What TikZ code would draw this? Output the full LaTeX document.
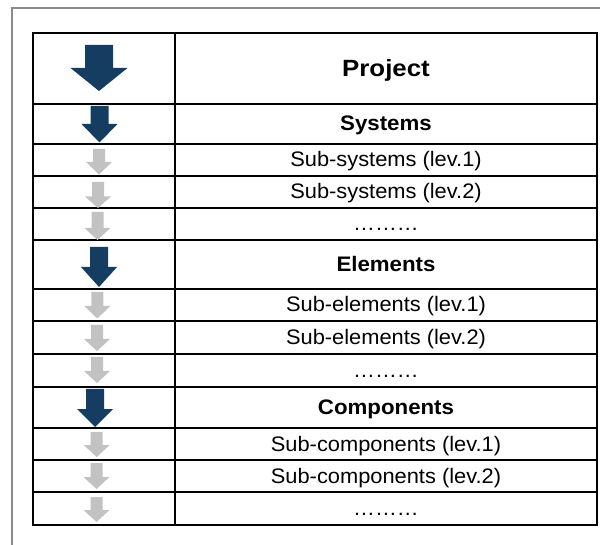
\documentclass[tikz,border=0pt]{standalone}
\usepackage{fontspec}
\setmainfont{Liberation Sans}
\newfontfamily\tablefont[FakeStretch=1.04]{Liberation Sans}
\newfontfamily\levelfont[FakeStretch=1.06]{Liberation Sans}
\newfontfamily\titlefont[FakeStretch=1.1]{Liberation Sans}

\definecolor{navy}{HTML}{153D61}
\definecolor{paleGray}{HTML}{C2C2C2}
\definecolor{frameGray}{HTML}{8A8A8A}

% one downward block arrow:
% #1 style, #2 centre x, #3 top, #4 half shaft, #5 head start, #6 half head, #7 tip
\newcommand{\blockarrow}[7]{%
  \fill[#1] ({#2-#4},#3) -- ({#2+#4},#3) -- ({#2+#4},#5) -- ({#2+#6},#5)
    -- (#2,#7) -- ({#2-#6},#5) -- ({#2-#4},#5) -- cycle;}

\tikzset{
  grid line/.style={line width=2pt, black},
  frame line/.style={line width=1.2pt, frameGray},
  major arrow/.style={fill=navy},
  minor arrow/.style={fill=paleGray},
  entry/.style={anchor=base, inner sep=0pt,
    font=\tablefont\fontsize{21}{24}\selectfont},
  level entry/.style={anchor=base, inner sep=0pt,
    font=\levelfont\bfseries\fontsize{21}{24}\selectfont},
  title entry/.style={anchor=base, inner sep=0pt,
    font=\titlefont\bfseries\fontsize{23.5}{28}\selectfont},
}

\begin{document}
\begin{tikzpicture}[x=1pt, y=-1pt]
  \useasboundingbox (0,0) rectangle (600,545);

  % page frame
  \draw[frame line] (12,545) -- (12,8) -- (600,8);

  % table grid
  \draw[grid line] (33,33) rectangle (597,525);
  \draw[grid line] (175,33) -- (175,525);
  \foreach \y in {104,144,176,208,240,289,321,354,387,428,460,492}
    \draw[grid line] (33,\y) -- (597,\y);

  % level arrows
  \blockarrow{major arrow}{99}{45}{14}{68}{28.5}{91}
  \blockarrow{major arrow}{99.5}{106}{9}{124}{18}{142.5}
  \blockarrow{major arrow}{99}{247}{9}{267}{18}{287}
  \blockarrow{major arrow}{95}{389}{9}{409}{18}{427}

  % sub-level arrows
  \blockarrow{minor arrow}{99}{149}{6}{162}{13}{174.5}
  \blockarrow{minor arrow}{98}{182}{6}{196.5}{13}{208}
  \blockarrow{minor arrow}{97.5}{212}{6}{228}{13}{240}
  \blockarrow{minor arrow}{97.3}{292}{6}{306}{13}{318.5}
  \blockarrow{minor arrow}{97}{325}{6}{339}{13}{351}
  \blockarrow{minor arrow}{97}{357}{6}{371}{13}{383}
  \blockarrow{minor arrow}{96.7}{432}{6}{445}{13}{457}
  \blockarrow{minor arrow}{96.5}{463}{6}{477}{13}{489}
  \blockarrow{minor arrow}{96.5}{497}{6}{510}{13}{522}

  % labels
  \node[title entry] (project) at (386,77) {Project};
  \node[level entry] (systems) at (386,131) {Systems};
  \node[entry] (subsys1) at (386,167) {Sub-systems (lev.1)};
  \node[entry] (subsys2) at (386,199) {Sub-systems (lev.2)};
  \node[entry] (subsysn) at (386,231) {………};
  \node[level entry] (elements) at (386,271.5) {Elements};
  \node[entry] (subel1) at (386,312) {Sub-elements (lev.1)};
  \node[entry] (subel2) at (386,344.5) {Sub-elements (lev.2)};
  \node[entry] (subeln) at (386,377.5) {………};
  \node[level entry] (components) at (386,414.5) {Components};
  \node[entry] (subcomp1) at (386,451) {Sub-components (lev.1)};
  \node[entry] (subcomp2) at (386,483) {Sub-components (lev.2)};
  \node[entry] (subcompn) at (386,515.5) {………};
\end{tikzpicture}
\end{document}
